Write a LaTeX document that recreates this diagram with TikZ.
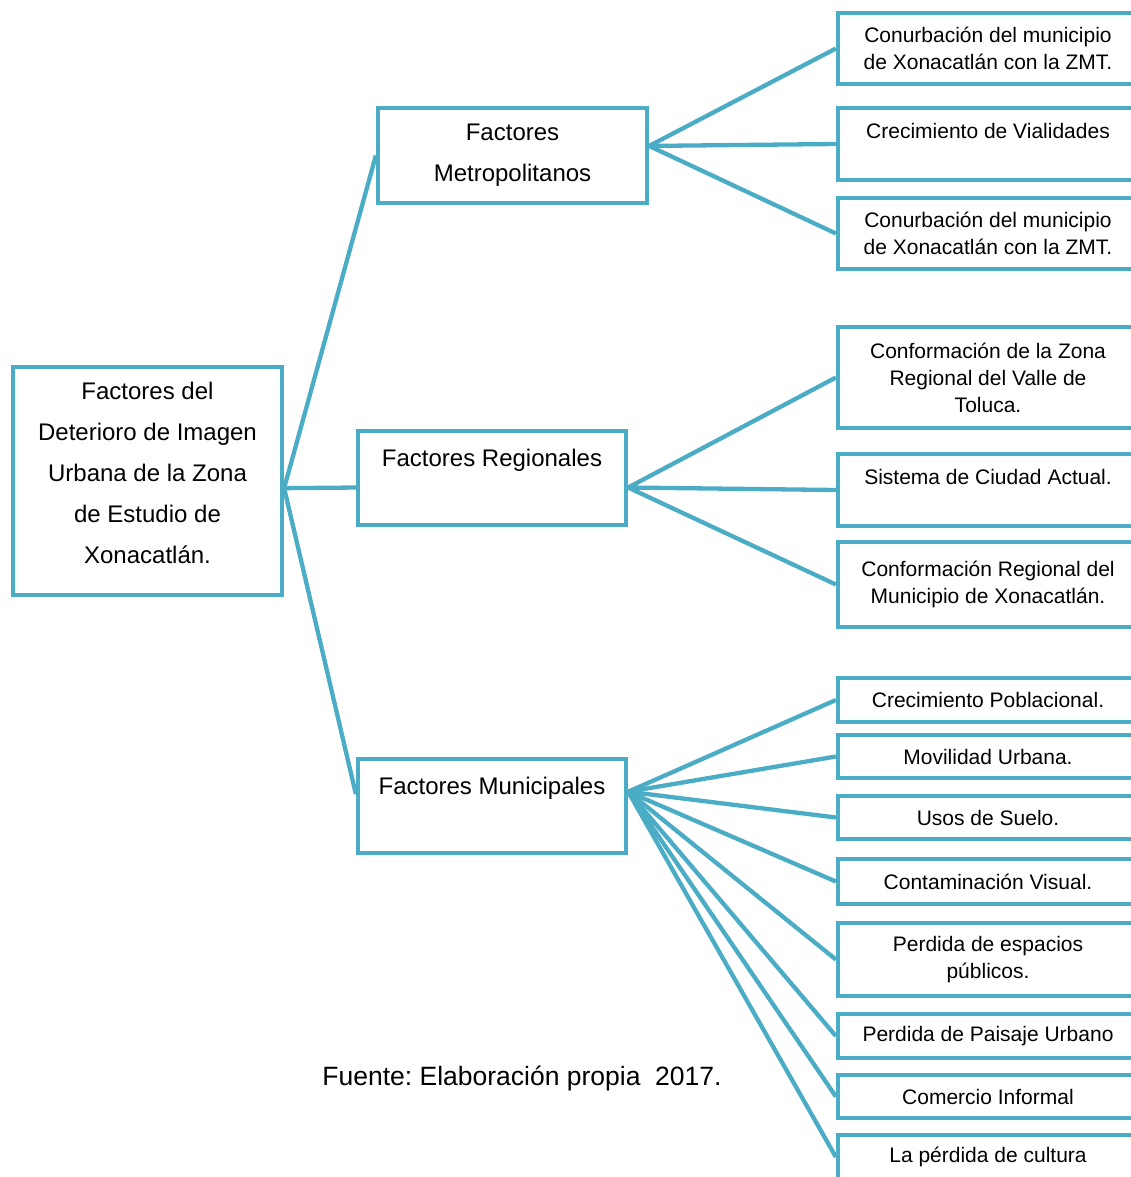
\documentclass[tikz,border=0pt]{standalone}
\usepackage{fontspec}
\setmainfont{Liberation Sans}
\definecolor{boxblue}{HTML}{4BACC6}
\frenchspacing

\begin{document}
\begin{tikzpicture}[x=1pt,y=-1pt,
    mainbox/.style={draw=boxblue, line width=4.3pt, align=center, font=\fontsize{24}{41}\selectfont},
    leafbox/.style={draw=boxblue, line width=4.3pt, align=center, minimum width=300pt, font=\fontsize{21}{27}\selectfont},
    link/.style={draw=boxblue, line width=4.3pt}]
  \useasboundingbox (0,0) rectangle (1131,1177);

  % Draw the root box
  \node[mainbox, minimum width=269pt, minimum height=228pt] (root) at (147.5,481)
    {Factores del\\Deterioro de Imagen\\Urbana de la Zona\\de Estudio de\\Xonacatlán.\rule[-16pt]{0pt}{16pt}};

  % Draw the three groups
  \node[mainbox, minimum width=269pt, minimum height=95pt] (metro) at (512.5,155.5) {Factores\\Metropolitanos};
  \node[mainbox, minimum width=268pt, minimum height=94pt] (regional) at (492,478) {Factores Regionales\\\mbox{}};
  \node[mainbox, minimum width=268pt, minimum height=94pt] (municipal) at (492,806) {Factores Municipales\\\mbox{}};

  % Metropolitan factors
  \node[leafbox, minimum height=71pt] (m1) at (988,48.5) {Conurbación del municipio\\de Xonacatlán con la ZMT.};
  \node[leafbox, minimum height=72pt] (m2) at (988,144) {Crecimiento de Vialidades\\\mbox{}};
  \node[leafbox, minimum height=71pt] (m3) at (988,233.5) {Conurbación del municipio\\de Xonacatlán con la ZMT.};

  % Regional factors
  \node[leafbox, minimum height=101pt] (r1) at (988,377.5) {Conformación de la Zona\\Regional del Valle de\\Toluca.};
  \node[leafbox, minimum height=72pt] (r2) at (988,490) {Sistema de Ciudad Actual.\\\mbox{}};
  \node[leafbox, minimum height=85pt] (r3) at (988,584.5) {Conformación Regional del\\Municipio de Xonacatlán.};

  % Municipal factors
  \node[leafbox, minimum height=44pt] (u1) at (988,700) {Crecimiento Poblacional.};
  \node[leafbox, minimum height=43pt] (u2) at (988,756.5) {Movilidad Urbana.};
  \node[leafbox, minimum height=43pt] (u3) at (988,817.5) {Usos de Suelo.};
  \node[leafbox, minimum height=45pt] (u4) at (988,881.5) {Contaminación Visual.};
  \node[leafbox, minimum height=73pt] (u5) at (988,959.5) {Perdida de espacios\\públicos.};
  \node[leafbox, minimum height=44pt] (u6) at (988,1036) {Perdida de Paisaje Urbano};
  \node[leafbox, minimum height=43pt] (u7) at (988,1096.5) {Comercio Informal};
  \node[leafbox, minimum height=44pt] (u8) at (988,1157) {La pérdida de cultura};

  % Draw the links from the root
  \draw[link] (root.-3) -- (metro.west);
  \draw[link] (root.-3) -- (regional.184);
  \draw[link] (root.-3) -- (municipal.175);

  % Draw the links to the factors
  \foreach \i in {1,2,3} \draw[link] (metro.4) -- (m\i.west);
  \foreach \i in {1,2,3} \draw[link] (regional.-4) -- (r\i.west);
  \foreach \i in {1,...,8} \draw[link] (municipal.6) -- (u\i.west);

  % Source note
  \node[font=\fontsize{26.5}{30}\selectfont] (source) at (522,1078) {Fuente: Elaboración propia\ \ 2017.};
\end{tikzpicture}
\end{document}
